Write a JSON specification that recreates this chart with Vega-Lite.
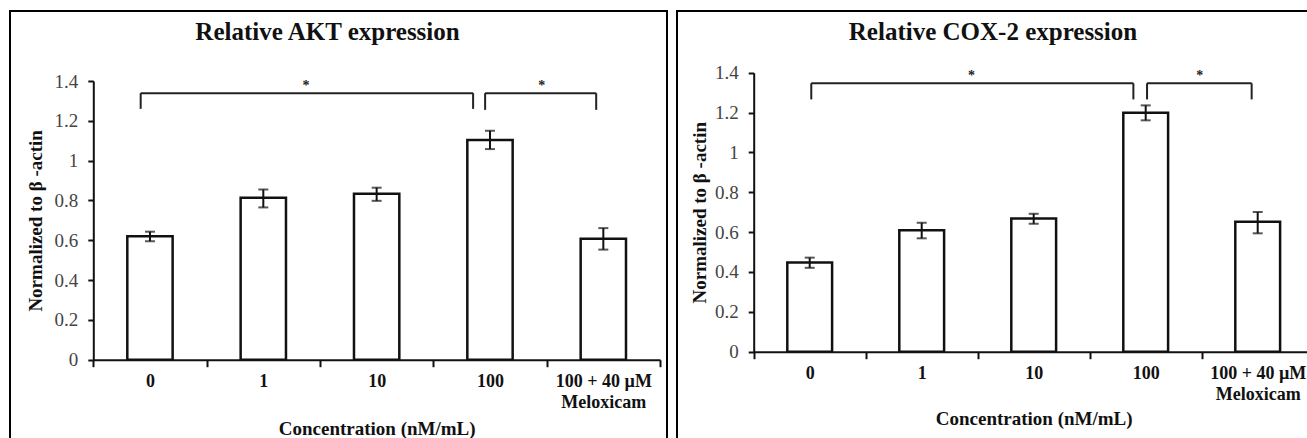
{
  "$schema": "https://vega.github.io/schema/vega-lite/v6.json",
  "padding": {"left": 9, "top": 10, "right": 0, "bottom": 0},
  "spacing": 8,
  "background": "white",
  "config": {
    "font": "Liberation Serif",
    "view": {"stroke": "black", "strokeWidth": 2},
    "axis": {"grid": false, "domainColor": "#111", "tickColor": "#111", "domainWidth": 2, "tickWidth": 2}
  },
  "datasets": {
    "akt": [
      {"group": "0", "mean": 0.62, "lo": 0.595, "hi": 0.643},
      {"group": "1", "mean": 0.813, "lo": 0.765, "hi": 0.855},
      {"group": "10", "mean": 0.833, "lo": 0.798, "hi": 0.864},
      {"group": "100", "mean": 1.103, "lo": 1.058, "hi": 1.15},
      {"group": "100 + 40 µM Meloxicam", "mean": 0.608, "lo": 0.553, "hi": 0.661}
    ],
    "cox": [
      {"group": "0", "mean": 0.447, "lo": 0.421, "hi": 0.472},
      {"group": "1", "mean": 0.609, "lo": 0.569, "hi": 0.647},
      {"group": "10", "mean": 0.669, "lo": 0.642, "hi": 0.692},
      {"group": "100", "mean": 1.199, "lo": 1.161, "hi": 1.236},
      {"group": "100 + 40 µM Meloxicam", "mean": 0.652, "lo": 0.594, "hi": 0.701}
    ],
    "aktSig": [
      {"start": 0.418, "end": 3.351, "mid": 1.877, "top": 1.339, "bottom": 1.26, "sig": "*"},
      {"start": 3.457, "end": 4.437, "mid": 3.956, "top": 1.339, "bottom": 1.255, "sig": "*"}
    ],
    "coxSig": [
      {"start": 0.514, "end": 3.39, "mid": 1.945, "top": 1.347, "bottom": 1.266, "sig": "*"},
      {"start": 3.512, "end": 4.446, "mid": 3.983, "top": 1.347, "bottom": 1.266, "sig": "*"}
    ]
  },
  "hconcat": [
    {
      "width": 657,
      "height": 440,
      "title": {"text": "Relative AKT expression", "fontSize": 25, "fontWeight": "bold", "font": "Liberation Serif", "color": "#111", "frame": "group", "offset": -34, "dx": -11},
      "resolve": {"scale": {"x": "independent"}},
      "layer": [
        {
          "data": {"name": "akt"},
          "encoding": {
            "x": {"field": "group", "type": "nominal", "sort": null,
              "scale": {"range": [83.3, 650], "paddingInner": 0, "paddingOuter": 0},
              "axis": {"title": "Concentration (nM/mL)", "titleFontSize": 19, "titleFontWeight": "bold", "titleColor": "#111", "titlePadding": 8,
                "labelAngle": 0, "labelFontSize": 18, "labelFontWeight": "bold", "labelColor": "#111", "labelPadding": 6, "labelLineHeight": 21,
                "labelExpr": "datum.label == '100 + 40 µM Meloxicam' ? ['100 + 40 µM', 'Meloxicam'] : datum.label",
                "tickBand": "extent", "tickSize": 7, "offset": -91.3}
            }
          },
          "layer": [
            {"mark": {"type": "bar", "fill": "white", "stroke": "#111", "strokeWidth": 2.5, "width": {"band": 0.4}},
             "encoding": {"y": {"field": "mean", "type": "quantitative",
               "scale": {"domain": [0, 1.4], "range": [348.7, 70], "nice": false},
               "axis": {"title": "Normalized to β -actin", "titleFontSize": 19, "titleFontWeight": "bold", "titleColor": "#111", "titlePadding": 9,
                 "values": [0, 0.2, 0.4, 0.6, 0.8, 1, 1.2, 1.4], "format": "~g", "labelFontSize": 19, "labelColor": "#444", "labelPadding": 10, "tickSize": 5.5, "offset": -83.3}}}},
            {"mark": {"type": "rule", "stroke": "#111", "strokeWidth": 2},
             "encoding": {"y": {"field": "lo", "type": "quantitative"}, "y2": {"field": "hi"}}},
            {"mark": {"type": "tick", "color": "#111", "size": 10, "thickness": 2},
             "encoding": {"y": {"field": "lo", "type": "quantitative"}}},
            {"mark": {"type": "tick", "color": "#111", "size": 10, "thickness": 2},
             "encoding": {"y": {"field": "hi", "type": "quantitative"}}}
          ]
        },
        {
          "data": {"name": "aktSig"},
          "layer": [
            {"mark": {"type": "rule", "stroke": "#222", "strokeWidth": 2},
             "encoding": {"x": {"field": "start", "type": "quantitative", "scale": {"domain": [0, 5], "range": [83.3, 650], "nice": false, "zero": false}, "axis": null},
               "x2": {"field": "end"}, "y": {"field": "top", "type": "quantitative"}}},
            {"mark": {"type": "rule", "stroke": "#222", "strokeWidth": 2},
             "encoding": {"x": {"field": "start", "type": "quantitative", "axis": null}, "y": {"field": "bottom", "type": "quantitative"}, "y2": {"field": "top"}}},
            {"mark": {"type": "rule", "stroke": "#222", "strokeWidth": 2},
             "encoding": {"x": {"field": "end", "type": "quantitative", "axis": null}, "y": {"field": "bottom", "type": "quantitative"}, "y2": {"field": "top"}}},
            {"mark": {"type": "text", "fontSize": 14, "fontWeight": "bold", "fill": "#222", "baseline": "alphabetic", "dy": -3},
             "encoding": {"x": {"field": "mid", "type": "quantitative", "axis": null}, "y": {"field": "top", "type": "quantitative"}, "text": {"field": "sig"}}}
          ]
        }
      ]
    },
    {
      "width": 640,
      "height": 440,
      "title": {"text": "Relative COX-2 expression", "fontSize": 25, "fontWeight": "bold", "font": "Liberation Serif", "color": "#111", "frame": "group", "offset": -34, "dx": -4},
      "resolve": {"scale": {"x": "independent"}},
      "layer": [
        {
          "data": {"name": "cox"},
          "encoding": {
            "x": {"field": "group", "type": "nominal", "sort": null,
              "scale": {"range": [76.7, 636.7], "paddingInner": 0, "paddingOuter": 0},
              "axis": {"title": "Concentration (nM/mL)", "titleFontSize": 19, "titleFontWeight": "bold", "titleColor": "#111", "titlePadding": 6,
                "labelAngle": 0, "labelFontSize": 18, "labelFontWeight": "bold", "labelColor": "#111", "labelPadding": 6, "labelLineHeight": 21,
                "labelExpr": "datum.label == '100 + 40 µM Meloxicam' ? ['100 + 40 µM', 'Meloxicam'] : datum.label",
                "tickBand": "extent", "tickSize": 7, "offset": -99.3}
            }
          },
          "layer": [
            {"mark": {"type": "bar", "fill": "white", "stroke": "#111", "strokeWidth": 2.5, "width": {"band": 0.4}},
             "encoding": {"y": {"field": "mean", "type": "quantitative",
               "scale": {"domain": [0, 1.4], "range": [340.7, 61.7], "nice": false},
               "axis": {"title": "Normalized to β -actin", "titleFontSize": 19, "titleFontWeight": "bold", "titleColor": "#111", "titlePadding": 5,
                 "values": [0, 0.2, 0.4, 0.6, 0.8, 1, 1.2, 1.4], "format": "~g", "labelFontSize": 19, "labelColor": "#444", "labelPadding": 10, "tickSize": 5.5, "offset": -76.7}}}},
            {"mark": {"type": "rule", "stroke": "#111", "strokeWidth": 2},
             "encoding": {"y": {"field": "lo", "type": "quantitative"}, "y2": {"field": "hi"}}},
            {"mark": {"type": "tick", "color": "#111", "size": 10, "thickness": 2},
             "encoding": {"y": {"field": "lo", "type": "quantitative"}}},
            {"mark": {"type": "tick", "color": "#111", "size": 10, "thickness": 2},
             "encoding": {"y": {"field": "hi", "type": "quantitative"}}}
          ]
        },
        {
          "data": {"name": "coxSig"},
          "layer": [
            {"mark": {"type": "rule", "stroke": "#222", "strokeWidth": 2},
             "encoding": {"x": {"field": "start", "type": "quantitative", "scale": {"domain": [0, 5], "range": [76.7, 636.7], "nice": false, "zero": false}, "axis": null},
               "x2": {"field": "end"}, "y": {"field": "top", "type": "quantitative"}}},
            {"mark": {"type": "rule", "stroke": "#222", "strokeWidth": 2},
             "encoding": {"x": {"field": "start", "type": "quantitative", "axis": null}, "y": {"field": "bottom", "type": "quantitative"}, "y2": {"field": "top"}}},
            {"mark": {"type": "rule", "stroke": "#222", "strokeWidth": 2},
             "encoding": {"x": {"field": "end", "type": "quantitative", "axis": null}, "y": {"field": "bottom", "type": "quantitative"}, "y2": {"field": "top"}}},
            {"mark": {"type": "text", "fontSize": 14, "fontWeight": "bold", "fill": "#222", "baseline": "alphabetic", "dy": -3},
             "encoding": {"x": {"field": "mid", "type": "quantitative", "axis": null}, "y": {"field": "top", "type": "quantitative"}, "text": {"field": "sig"}}}
          ]
        }
      ]
    }
  ]
}
